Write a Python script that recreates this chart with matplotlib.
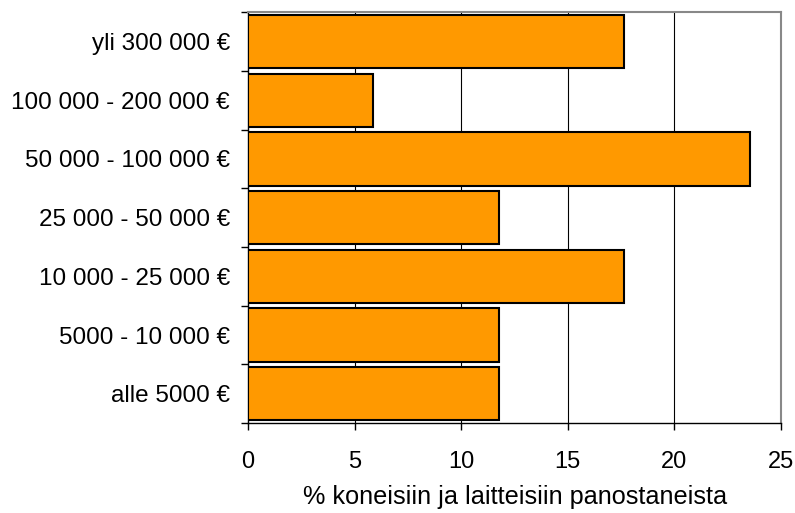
import numpy as np
import matplotlib
matplotlib.use("Agg")
import matplotlib.pyplot as plt
from matplotlib.ticker import FixedLocator

plt.rcParams['font.family'] = ['Liberation Sans', 'DejaVu Sans']

# investointiluokat (alhaalta ylös)
categories = ['alle 5000 €', '5000 - 10 000 €', '10 000 - 25 000 €',
              '25 000 - 50 000 €', '50 000 - 100 000 €',
              '100 000 - 200 000 €', 'yli 300 000 €']
values = [11.76, 11.76, 17.65, 11.76, 23.53, 5.88, 17.65]
xticks = [0, 5, 10, 15, 20, 25]
xlabel = '% koneisiin ja laitteisiin panostaneista'

fig = plt.figure(figsize=(7.95, 5.13), dpi=100)
ax = fig.add_axes([0.312, 0.1754, 0.6705, 0.8006])

y = np.arange(len(categories))
ax.barh(y, values, height=0.91, color='#FF9900', edgecolor='black',
        linewidth=1.5, zorder=3)

ax.set_xlim(0, 25)
ax.set_ylim(-0.5, len(categories) - 0.5)

ax.set_xticks(xticks)
ax.set_xticklabels([str(t) for t in xticks], fontsize=17)
ax.set_yticks(y)
ax.set_yticklabels(categories, fontsize=17.5)
ax.tick_params(axis='y', which='major', length=0, pad=13)
ax.yaxis.set_minor_locator(FixedLocator(np.arange(-0.5, len(categories), 1)))
ax.tick_params(axis='y', which='minor', length=5, width=1, direction='out')
ax.tick_params(axis='x', which='major', length=5, width=1, pad=15)

# rasteri
for t in xticks[1:-1]:
    ax.axvline(t, color='black', linewidth=0.8, zorder=1)

for s in ['top', 'right']:
    ax.spines[s].set_color('#888888')
    ax.spines[s].set_linewidth(1.5)
for s in ['left', 'bottom']:
    ax.spines[s].set_color('black')
    ax.spines[s].set_linewidth(1)

ax.set_xlabel(xlabel, fontsize=18.2, labelpad=9)

fig.savefig('out.png', dpi=100)
